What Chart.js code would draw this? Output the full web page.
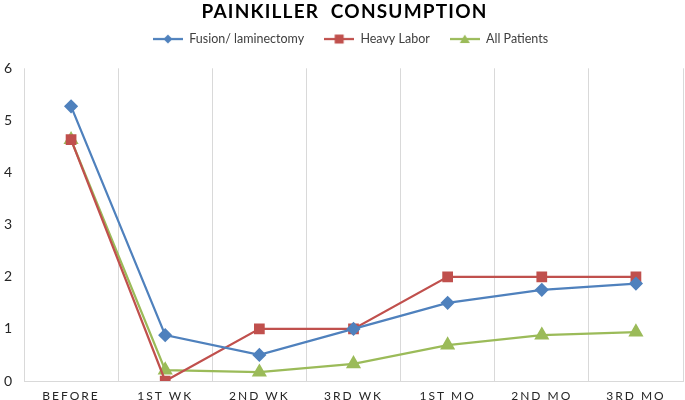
<!DOCTYPE html>
<html>
<head>
<meta charset="utf-8">
<script src="https://cdn.jsdelivr.net/npm/chart.js@4"></script>
<style>
  html, body { margin: 0; padding: 0; background: #fff; overflow: hidden; }
  canvas { display: block; }
</style>
</head>
<body>
<canvas id="painChart" width="685" height="400"></canvas>
<script>
// data
const periods = ['BEFORE', '1ST WK', '2ND WK', '3RD WK', '1ST MO', '2ND MO', '3RD MO'];
const fusionLaminectomy = [5.27, 0.88, 0.5, 1.0, 1.5, 1.75, 1.87];
const heavyLabor = [4.63, 0, 1, 1, 2, 2, 2];
const allPatients = [4.63, 0.21, 0.17, 0.33, 0.69, 0.88, 0.94];
const yTicks = [0, 1, 2, 3, 4, 5, 6];

const blue = '#4f81bd';
const red = '#c0504d';
const green = '#9bbb59';

// legend symbol: short line with the marker in the middle
function legendIcon(color, style) {
    const c = document.createElement('canvas');
    c.width = 30; c.height = 12;
    const g = c.getContext('2d');
    g.strokeStyle = color;
    g.lineWidth = 2.25;
    g.beginPath(); g.moveTo(0, 6); g.lineTo(30, 6); g.stroke();
    g.fillStyle = color;
    g.beginPath();
    if (style === 'diamond') {
        g.moveTo(15, 1.5); g.lineTo(19.5, 6); g.lineTo(15, 10.5); g.lineTo(10.5, 6);
    } else if (style === 'square') {
        g.rect(10.5, 1.5, 9, 9);
    } else {
        g.moveTo(15, 1.5); g.lineTo(20, 10); g.lineTo(10, 10);
    }
    g.closePath(); g.fill();
    return c;
}
const icons = [legendIcon(blue, 'diamond'), legendIcon(red, 'square'), legendIcon(green, 'triangle')];

// wrap a box's draw call with a shift and letter spacing
function wrapDraw(chart, box, dx, spacing) {
    if (!box || box._wrapped) return;
    const orig = box.draw.bind(box);
    box.draw = function (a) {
        chart.ctx.save();
        chart.ctx.translate(dx, 0);
        if (spacing) chart.ctx.letterSpacing = spacing;
        orig(a);
        chart.ctx.restore();
    };
    box._wrapped = true;
}

const tweaksPlugin = {
    id: 'tweaks',
    beforeLayout(chart) {
        const l = chart.legend;
        if (l && !l._tweaked) {
            const origFit = l.fit.bind(l);
            l.fit = function () { origFit(); this.height += 13; };
            l._tweaked = true;
        }
    },
    afterLayout(chart) {
        const s = chart.scales.x;
        if (!s._spaced) {
            const orig = s.drawLabels.bind(s);
            s.drawLabels = function (area) {
                chart.ctx.save();
                chart.ctx.letterSpacing = '2px';
                orig(area);
                chart.ctx.restore();
            };
            s._spaced = true;
        }
        wrapDraw(chart, chart.titleBlock, 3, '1.2px');
        wrapDraw(chart, chart.legend, 9, null);
    }
};

new Chart(document.getElementById('painChart'), {
    type: 'line',
    data: {
        labels: periods,
        datasets: [{
            label: 'Fusion/ laminectomy',
            data: fusionLaminectomy,
            borderColor: blue,
            backgroundColor: blue,
            borderWidth: 2.25,
            pointStyle: 'rectRot',
            pointRadius: 5.5,
            tension: 0
        }, {
            label: 'Heavy Labor',
            data: heavyLabor,
            borderColor: red,
            backgroundColor: red,
            borderWidth: 2.25,
            pointStyle: 'rect',
            pointRadius: 6,
            tension: 0
        }, {
            label: 'All Patients',
            data: allPatients,
            borderColor: green,
            backgroundColor: green,
            borderWidth: 2.25,
            pointStyle: 'triangle',
            pointRadius: 6.5,
            tension: 0
        }]
    },
    options: {
        responsive: false,
        animation: false,
        layout: { autoPadding: false, padding: { left: 0, right: 2, top: 0, bottom: 0 } },
        plugins: {
            title: {
                display: true,
                text: 'PAINKILLER  CONSUMPTION',
                color: '#000',
                font: { family: 'Lato', size: 19, weight: 'bold' },
                padding: { top: 0, bottom: -10 }
            },
            legend: {
                display: true,
                labels: {
                    usePointStyle: true,
                    pointStyleWidth: 30,
                    color: '#404040',
                    font: { family: 'Lato', size: 12.5 },
                    padding: 20,
                    generateLabels(chart) {
                        return chart.data.datasets.map((ds, i) => ({
                            text: ds.label,
                            fillStyle: ds.backgroundColor,
                            strokeStyle: ds.borderColor,
                            pointStyle: icons[i],
                            fontColor: '#404040',
                            hidden: false,
                            datasetIndex: i
                        }));
                    }
                }
            },
            tooltip: { enabled: false }
        },
        scales: {
            x: {
                offset: true,
                grid: { display: true, offset: true, color: '#d9d9d9', drawTicks: false },
                border: { display: true, color: '#d9d9d9' },
                ticks: {
                    color: '#262626',
                    font: { family: 'Lato', size: 12 },
                    padding: 8,
                    maxRotation: 0
                },
                afterFit(scale) {
                    scale.height = 19;
                    scale.paddingLeft = 0;
                    scale.paddingRight = 0;
                }
            },
            y: {
                min: 0,
                max: 6,
                afterBuildTicks(scale) { scale.ticks = yTicks.map(v => ({ value: v })); },
                grid: { display: false, drawTicks: false },
                border: { display: false },
                ticks: {
                    color: '#262626',
                    font: { family: 'Lato', size: 14 },
                    padding: 12
                },
                afterFit(scale) {
                    scale.width = 24;
                    scale.paddingTop = 0;
                    scale.paddingBottom = 0;
                }
            }
        }
    },
    plugins: [tweaksPlugin]
});
</script>
</body>
</html>
